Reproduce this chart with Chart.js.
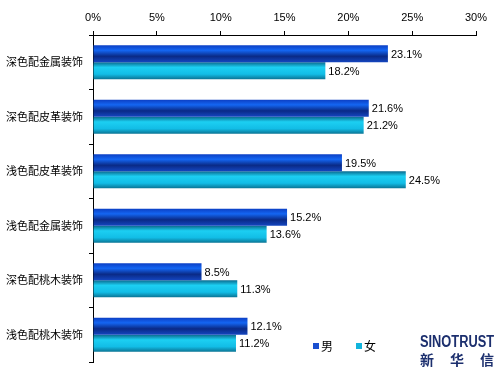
<!DOCTYPE html>
<html>
<head>
<meta charset="utf-8">
<script src="https://cdn.jsdelivr.net/npm/chart.js@4/dist/chart.umd.min.js"></script>
<style>
  html, body { margin: 0; padding: 0; background: #fff; }
  #wrap { position: relative; width: 500px; height: 375px; }
  #logo { position: absolute; left: 420px; top: 333px; width: 75px; color: #1c2f6e; font-family: "Liberation Sans", Arial, sans-serif; font-weight: bold; }
  #logo .en { font-size: 16px; line-height: 17px; white-space: nowrap; display: inline-block; transform-origin: 0 0; }
  #logo .cn { font-family: "Noto Sans CJK SC", sans-serif; font-size: 14px; line-height: 16px; display: flex; justify-content: space-between; padding-right: 1px; }
</style>
</head>
<body>
<div id="wrap">
  <canvas id="c" width="500" height="375"></canvas>
  <div id="logo"><span class="en" id="en">SINOTRUST</span><div class="cn"><span>新</span><span>华</span><span>信</span></div></div>
</div>
<script>
const categories = ['深色配金属装饰', '深色配皮革装饰', '浅色配皮革装饰', '浅色配金属装饰', '深色配桃木装饰', '浅色配桃木装饰'];
const seriesNames = ['男', '女'];
const maleValues = [23.1, 21.6, 19.5, 15.2, 8.5, 12.1];
const femaleValues = [18.2, 21.2, 24.5, 13.6, 11.3, 11.2];
const xTicks = [0, 5, 10, 15, 20, 25, 30];

(function () {
  const en = document.getElementById('en');
  const w = en.getBoundingClientRect().width;
  if (w > 0) en.style.transform = 'scaleX(' + (74 / w) + ')';
})();

const CAT_PCT = 0.624;
const stops = [
  [[0, '#0c3fc4'], [0.3, '#1466f2'], [0.65, '#0a2a86'], [1, '#1446c0']],
  [[0, '#0a6a8e'], [0.3, '#1ccff2'], [0.7, '#12bde6'], [1, '#0a7494']]
];
const legendColors = ['#1a4fd0', '#12b4dc'];

function barGradient(ctx) {
  const chart = ctx.chart;
  const y = chart.scales.y;
  if (!y || !chart.chartArea || ctx.dataIndex === undefined) return legendColors[ctx.datasetIndex];
  const center = y.getPixelForValue(ctx.dataIndex);
  const band = (chart.chartArea.bottom - chart.chartArea.top) / categories.length;
  const t = band * CAT_PCT / 2;
  const top = ctx.datasetIndex === 0 ? center - t : center;
  const g = chart.ctx.createLinearGradient(0, top, 0, top + t);
  stops[ctx.datasetIndex].forEach(s => g.addColorStop(s[0], s[1]));
  return g;
}

const valueLabels = {
  id: 'valueLabels',
  afterDatasetsDraw(chart) {
    const c = chart.ctx;
    c.save();
    c.font = '11px "Liberation Sans", Arial, sans-serif';
    c.fillStyle = '#000';
    c.textBaseline = 'middle';
    c.textAlign = 'left';
    chart.data.datasets.forEach((ds, di) => {
      chart.getDatasetMeta(di).data.forEach((el, i) => {
        c.fillText(ds.data[i].toFixed(1) + '%', el.x + 3, el.y + 1);
      });
    });
    c.restore();
  }
};

const customLegend = {
  id: 'customLegend',
  afterDraw(chart) {
    const c = chart.ctx;
    c.save();
    const xs = [313, 356];
    chart.data.datasets.forEach((ds, i) => {
      c.fillStyle = legendColors[i];
      c.fillRect(xs[i], 343, 6, 6);
      c.fillStyle = '#000';
      c.font = '12px "Noto Sans CJK SC", sans-serif';
      c.textBaseline = 'middle';
      c.textAlign = 'left';
      c.fillText(ds.label, xs[i] + 8, 346);
    });
    c.restore();
  }
};

new Chart(document.getElementById('c'), {
  type: 'bar',
  data: {
    labels: categories,
    datasets: [
      { label: seriesNames[0], data: maleValues, backgroundColor: barGradient },
      { label: seriesNames[1], data: femaleValues, backgroundColor: barGradient }
    ]
  },
  options: {
    indexAxis: 'y',
    responsive: false,
    animation: false,
    devicePixelRatio: 1,
    layout: { padding: { left: 0, top: 0, right: 24, bottom: 13 } },
    datasets: { bar: { categoryPercentage: CAT_PCT, barPercentage: 1.0 } },
    plugins: { legend: { display: false }, tooltip: { enabled: false } },
    scales: {
      x: {
        position: 'top',
        min: 0, max: 30,
        afterBuildTicks(scale) { scale.ticks = xTicks.map(v => ({ value: v })); },
        afterFit(scale) { scale.height = 35; },
        ticks: {
          callback: v => v + '%',
          font: { family: '"Liberation Sans", Arial, sans-serif', size: 11 },
          color: '#000',
          padding: 6,
          maxRotation: 0
        },
        grid: { drawOnChartArea: false, tickLength: 4, color: '#000' },
        border: { color: '#000' }
      },
      y: {
        afterFit(scale) { scale.width = 93; },
        ticks: {
          font: { family: '"Noto Sans CJK SC", sans-serif', size: 11 },
          color: '#000',
          padding: 6
        },
        grid: { offset: true, drawOnChartArea: false, tickLength: 4, color: '#000' },
        border: { color: '#000' }
      }
    }
  },
  plugins: [valueLabels, customLegend]
});
</script>
</body>
</html>
